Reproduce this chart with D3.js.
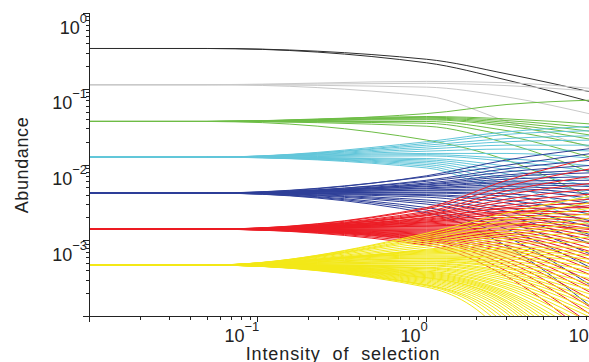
<!DOCTYPE html>
<html>
<head>
<meta charset="utf-8">
<script src="https://cdn.jsdelivr.net/npm/d3@7"></script>
<style>
    body { margin: 0; background: #fff; }
    svg { display: block; font-family: 'Liberation Sans', Arial, sans-serif; }
</style>
</head>
<body>
<div class="chart-container"></div>
<script>
const xSamples = [0.01, 0.05, 1, 3, 10];

// starting abundance of each species group (flat part on the left)
const baseAbundance = [0.34, 0.113, 0.037, 0.0125, 0.0042, 0.0014, 0.00047];

// each line: abundance at intensity 1, 3 and 10
const blackLines = [
    [0.245, 0.157, 0.088],
    [0.22, 0.13, 0.065]
];
const grayLines = [
    [0.125, 0.12, 0.1],
    [0.118, 0.11, 0.092],
    [0.105, 0.078, 0.045],
    [0.08, 0.037, 0.016]
];
const greenLines = [
    [0.047, 0.062, 0.071],
    [0.043, 0.040, 0.034],
    [0.042, 0.038, 0.030],
    [0.041, 0.036, 0.027],
    [0.040, 0.034, 0.024],
    [0.039, 0.032, 0.021],
    [0.037, 0.028, 0.017],
    [0.035, 0.024, 0.012],
    [0.032, 0.019, 0.0075],
    [0.021, 0.0114, 0.0034]
];
const cyanLines = [
    [0.020, 0.027, 0.032],
    [0.019, 0.025, 0.028],
    [0.018, 0.022, 0.024],
    [0.017, 0.020, 0.021],
    [0.016, 0.018, 0.018],
    [0.015, 0.016, 0.015],
    [0.014, 0.014, 0.012],
    [0.0135, 0.012, 0.0095],
    [0.013, 0.011, 0.008],
    [0.012, 0.0095, 0.0062],
    [0.0115, 0.0085, 0.005],
    [0.011, 0.0075, 0.004],
    [0.0105, 0.0065, 0.003],
    [0.010, 0.0055, 0.0022],
    [0.0095, 0.0045, 0.0015],
    [0.009, 0.0038, 0.001]
];
const blueLines = [
    [0.0071, 0.0115, 0.0165],
    [0.0069, 0.0098, 0.0142],
    [0.0062, 0.0088, 0.0115],
    [0.0060, 0.0080, 0.0098],
    [0.0057, 0.0073, 0.0085],
    [0.0055, 0.0069, 0.0078],
    [0.0054, 0.0064, 0.0069],
    [0.0052, 0.0060, 0.0062],
    [0.0051, 0.0057, 0.0055],
    [0.0049, 0.0054, 0.0051],
    [0.0048, 0.0051, 0.0045],
    [0.0046, 0.0048, 0.0040],
    [0.0045, 0.0045, 0.0035],
    [0.0043, 0.0041, 0.0030],
    [0.0042, 0.0038, 0.0026],
    [0.0040, 0.0034, 0.00215],
    [0.0039, 0.0031, 0.00174],
    [0.0037, 0.0027, 0.00145],
    [0.0034, 0.0024, 0.00113],
    [0.0032, 0.0021, 0.00086],
    [0.0030, 0.00174, 0.00062],
    [0.0027, 0.0014, 0.000405],
    [0.0025, 0.0011, 0.000234],
    [0.0023, 0.00083, 0.00012]
];
const redLines = [
    [0.0027, 0.0062, 0.0125],
    [0.0026, 0.0052, 0.0090],
    [0.0024, 0.0045, 0.0071],
    [0.0023, 0.0040, 0.0057],
    [0.0022, 0.0035, 0.0048],
    [0.00215, 0.0032, 0.0041],
    [0.0021, 0.0029, 0.0035],
    [0.0020, 0.0027, 0.0031],
    [0.00196, 0.0026, 0.0027],
    [0.0019, 0.0024, 0.0024],
    [0.00185, 0.0023, 0.00215],
    [0.0018, 0.00215, 0.0019],
    [0.00174, 0.0020, 0.00174],
    [0.00169, 0.0019, 0.00154],
    [0.00164, 0.0018, 0.0014],
    [0.00159, 0.00169, 0.00124],
    [0.00154, 0.00159, 0.0011],
    [0.0015, 0.0015, 0.00098],
    [0.00145, 0.0014, 0.00086],
    [0.0014, 0.00132, 0.00076],
    [0.00136, 0.00124, 0.00068],
    [0.00132, 0.00117, 0.0006],
    [0.00128, 0.0011, 0.00053],
    [0.00124, 0.00104, 0.00046],
    [0.0012, 0.00095, 0.00039],
    [0.00117, 0.00086, 0.00033],
    [0.00113, 0.00079, 0.00027],
    [0.0011, 0.00072, 0.000227],
    [0.00107, 0.00066, 0.00019],
    [0.00104, 0.00058, 0.000153],
    [0.00101, 0.00052, 0.00012],
    [0.00098, 0.00046, 0.000096],
    [0.00092, 0.00039, 0.000071],
    [0.00086, 0.00033, 0.000048],
    [0.00154, 0.00164, 0.00136],
    [0.00174, 0.0023, 0.0029]
];
const yellowLines = [
    [0.00124, 0.0023, 0.0039],
    [0.00117, 0.0020, 0.0032],
    [0.0011, 0.0018, 0.0027],
    [0.00104, 0.00159, 0.0023],
    [0.00098, 0.0014, 0.0020],
    [0.00092, 0.00128, 0.00174],
    [0.00086, 0.00117, 0.0015],
    [0.00081, 0.00107, 0.00128],
    [0.00076, 0.00098, 0.0011],
    [0.00074, 0.00089, 0.00095],
    [0.00072, 0.00081, 0.00081],
    [0.0007, 0.00076, 0.0007],
    [0.00068, 0.00072, 0.00062],
    [0.00066, 0.00068, 0.00055],
    [0.00064, 0.00064, 0.00049],
    [0.00062, 0.0006, 0.00043],
    [0.0006, 0.00057, 0.00038],
    [0.00058, 0.00053, 0.00034],
    [0.00057, 0.0005, 0.0003],
    [0.00055, 0.00047, 0.00026],
    [0.00053, 0.00044, 0.000234],
    [0.00052, 0.00042, 0.00021],
    [0.0005, 0.00039, 0.000185],
    [0.00049, 0.00037, 0.000163],
    [0.00047, 0.00035, 0.000145],
    [0.00046, 0.00033, 0.00013],
    [0.00044, 0.00031, 0.000115],
    [0.00043, 0.00029, 0.0001],
    [0.00042, 0.00027, 0.00009],
    [0.000405, 0.000256, 0.000076],
    [0.00039, 0.00024, 0.000065],
    [0.00038, 0.000227, 0.000054],
    [0.00037, 0.00021, 0.000045],
    [0.00036, 0.0002, 0.000038],
    [0.00035, 0.00019, 0.000031],
    [0.00034, 0.00018, 0.000025],
    [0.00033, 0.00017, 0.000019],
    [0.00032, 0.000158, 0.000015],
    [0.00032, 0.00015, 0.000012],
    [0.00031, 0.00014, 0.0000091],
    [0.0003, 0.00013, 0.0000069],
    [0.00029, 0.000118, 0.0000051],
    [0.00028, 0.000108, 0.0000037],
    [0.00027, 0.000096, 0.0000023],
    [0.00026, 0.000085, 0.0000015],
    [0.000256, 0.000073, 0.0000009],
    [0.00025, 0.000061, 0.0000005],
    [0.00024, 0.000049, 0.0000003]
];

const xLabelTicks = [0.1, 1, 10];
const yLabelTicks = [1, 0.1, 0.01, 0.001];

const groupLines = [blackLines, grayLines, greenLines, cyanLines, blueLines, redLines, yellowLines];
const groupColors = ['#2e2e2e', '#c9c9c9', '#6dbd45', '#62c6da', '#2e3f98', '#ec1c24', '#f3e817'];

const chartWidth = 589;
const chartHeight = 362;
const plotLeft = 90;
const plotRight = 595;
const plotTop = 13;
const plotBottom = 316;
const axisColor = '#222';

const svg = d3.select('.chart-container')
    .append('svg')
    .attr('width', chartWidth)
    .attr('height', chartHeight);

const x = d3.scaleLog().domain([0.01, 10]).range([plotLeft, plotRight]);
const y = d3.scaleLog().domain([0.0001, 1]).range([plotBottom, plotTop]);

svg.append('clipPath')
    .attr('id', 'plot-clip')
    .append('rect')
    .attr('x', plotLeft)
    .attr('y', plotTop - 3)
    .attr('width', plotRight - plotLeft)
    .attr('height', plotBottom - plotTop + 3);

const line = d3.line()
    .x(d => x(d[0]))
    .y(d => y(d[1]))
    .curve(d3.curveMonotoneX);

const plot = svg.append('g').attr('clip-path', 'url(#plot-clip)');

groupLines.forEach((lines, g) => {
    const base = baseAbundance[g];
    lines.forEach(l => {
        const values = [base, base, l[0], l[1], l[2]];
        const pts = xSamples.map((xs, i) => [xs, values[i]]);
        plot.append('path')
            .attr('d', line(pts))
            .style('fill', 'none')
            .style('stroke', groupColors[g])
            .style('stroke-width', 1);
    });
});

// axes
const isMajor = v => Math.abs(Math.log10(v) - Math.round(Math.log10(v))) < 1e-6;

svg.append('line')
    .attr('x1', plotLeft - 0.5).attr('x2', plotRight)
    .attr('y1', plotBottom + 0.5).attr('y2', plotBottom + 0.5)
    .style('stroke', axisColor);

svg.append('line')
    .attr('x1', plotLeft - 0.5).attr('x2', plotLeft - 0.5)
    .attr('y1', plotTop).attr('y2', plotBottom + 0.5)
    .style('stroke', axisColor);

x.ticks().forEach(t => {
    const px = Math.round(x(t)) - 0.5;
    svg.append('line')
        .attr('x1', px).attr('x2', px)
        .attr('y1', plotBottom).attr('y2', plotBottom + (isMajor(t) ? 6 : 4))
        .style('stroke', axisColor);
});

y.ticks().forEach(t => {
    const py = Math.round(y(t)) + 0.5;
    svg.append('line')
        .attr('x1', plotLeft).attr('x2', plotLeft - (isMajor(t) ? 7 : 4))
        .attr('y1', py).attr('y2', py)
        .style('stroke', axisColor);
});

function expLabel(sel, v) {
    const e = Math.round(Math.log10(v));
    sel.append('tspan').text('10');
    sel.append('tspan')
        .attr('dy', -11)
        .style('font-size', '13px')
        .text(e < 0 ? '\u2212' + (-e) : String(e));
}

xLabelTicks.forEach(t => {
    svg.append('text')
        .attr('x', x(t) + 1)
        .attr('y', plotBottom + 26)
        .attr('text-anchor', 'end')
        .style('font-size', '18px')
        .style('fill', '#222')
        .call(expLabel, t);
});

yLabelTicks.forEach(t => {
    svg.append('text')
        .attr('x', plotLeft - 3)
        .attr('y', y(t) + 20.5)
        .attr('text-anchor', 'end')
        .style('font-size', '18px')
        .style('fill', '#222')
        .call(expLabel, t);
});

svg.append('text')
    .attr('transform', 'translate(28,165) rotate(-90)')
    .attr('text-anchor', 'middle')
    .style('font-size', '18px')
    .style('letter-spacing', '0.6px')
    .style('fill', '#222')
    .text('Abundance');

svg.append('text')
    .attr('x', 343)
    .attr('y', 360)
    .attr('text-anchor', 'middle')
    .style('font-size', '18px')
    .style('letter-spacing', '0.9px')
    .style('white-space', 'pre')
    .style('fill', '#222')
    .text('Intensity  of  selection');
</script>
</body>
</html>
